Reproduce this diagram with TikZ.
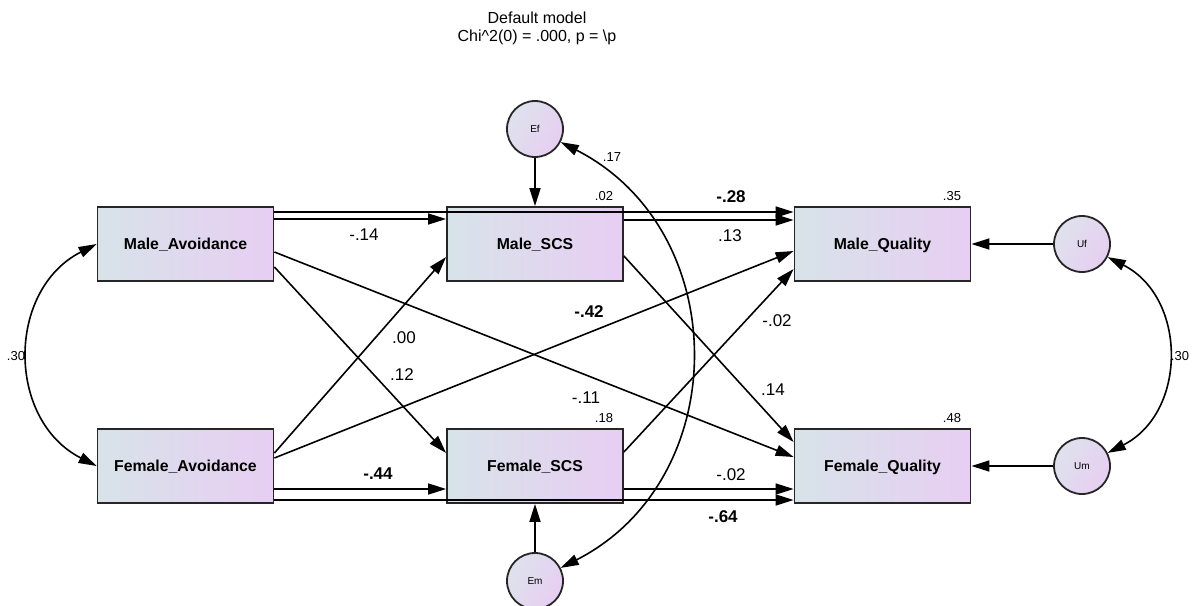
\documentclass[tikz,border=0pt]{standalone}
\usepackage{fontspec}
\setmainfont{Liberation Sans}
\usetikzlibrary{calc,arrows.meta}
\definecolor{boxL}{RGB}{216,227,233}
\definecolor{boxR}{RGB}{231,206,242}
\definecolor{cirL}{RGB}{222,226,236}
\definecolor{cirR}{RGB}{231,206,242}
\begin{document}
\begin{tikzpicture}[x=0.5pt,y=0.5pt,
  box/.style={draw=black!85, line width=0.9pt, left color=boxL, right color=boxR,
    minimum width=88pt, minimum height=37pt, inner sep=0pt,
    font=\fontsize{7.9}{9}\selectfont\bfseries, text height=5.7pt, text depth=0pt},
  latent/.style={circle, draw=black!85, line width=0.9pt, minimum size=28pt, inner sep=0pt,
    left color=cirL, right color=cirR, shading angle=60, font=\fontsize{5}{6}\selectfont},
  path/.style={line width=0.8pt, -{Triangle[length=9pt,width=5.5pt]}},
  cov/.style={line width=0.8pt, {Triangle[length=9pt,width=5.5pt]}-{Triangle[length=9pt,width=5.5pt]}},
  lab/.style={font=\fontsize{8.5}{10}\selectfont, inner sep=0pt},
  blab/.style={font=\fontsize{8.5}{10}\selectfont\bfseries, inner sep=0pt},
  small/.style={font=\fontsize{6.5}{8}\selectfont, inner sep=0pt},
  ttl/.style={font=\fontsize{8}{10}\selectfont, anchor=base, inner sep=0pt}
]
\useasboundingbox (0,0) rectangle (1197,-605);

% observed variables
\node[box] (ma) at (185.5,-244) {Male\_Avoidance};
\node[box] (mscs) at (535,-244) {Male\_SCS};
\node[box] (mq) at (882.5,-244) {Male\_Quality};
\node[box] (fa) at (185.5,-466) {Female\_Avoidance};
\node[box] (fscs) at (535,-466) {Female\_SCS};
\node[box] (fq) at (882.5,-466) {Female\_Quality};

% error terms
\node[latent] (ef) at (535,-129) {Ef};
\node[latent] (em) at (535,-581) {Em};
\node[latent] (uf) at (1082,-244) {Uf};
\node[latent] (um) at (1082,-466) {Um};

% horizontal paths
\draw[path] ($(ma.east)+(0,25)$) -- ($(mscs.west)+(0,25)$);
\draw[path] ($(ma.east)+(0,32)$) -- ($(mq.west)+(0,32)$);
\draw[path] ($(mscs.east)+(0,24)$) -- ($(mq.west)+(0,24)$);
\draw[path] ($(fa.east)+(0,-23)$) -- ($(fscs.west)+(0,-23)$);
\draw[path] ($(fa.east)+(0,-34)$) -- ($(fq.west)+(0,-34)$);
\draw[path] ($(fscs.east)+(0,-23)$) -- ($(fq.west)+(0,-23)$);

% cross paths
\draw[path] ($(ma.east)+(0,-23)$) -- ($(fscs.west)+(0,13)$);
\draw[path] ($(ma.east)+(0,-8)$) -- ($(fq.west)+(0,9)$);
\draw[path] ($(fa.east)+(0,13)$) -- ($(mscs.west)+(0,-13)$);
\draw[path] ($(fa.east)+(0,8)$) -- ($(mq.west)+(0,-7)$);
\draw[path] ($(mscs.east)+(0,-12)$) -- ($(fq.west)+(0,24)$);
\draw[path] ($(fscs.east)+(0,14)$) -- ($(mq.west)+(0,-25)$);

% error paths
\draw[path] (ef) -- (mscs);
\draw[path] (em) -- (fscs);
\draw[path] (uf) -- (mq);
\draw[path] (um) -- (fq);

% covariances
\draw[cov] (ma.west) to[out=207,in=153,looseness=1.17] (fa.west);
\draw[cov] (uf) to[out=-27,in=27,looseness=1.17] (um);
\draw[cov] (ef) to[out=-27,in=27,looseness=1.17] (em);

% path coefficients
\node[lab] (l1) at (364,-235) {-.14};
\node[blab] (l2) at (731,-197) {-.28};
\node[lab] (l3) at (730,-236) {.13};
\node[blab] (l4) at (378,-474) {-.44};
\node[lab] (l5) at (731,-475) {-.02};
\node[blab] (l6) at (723,-517) {-.64};
\node[lab] (l7) at (404,-338) {.00};
\node[lab] (l8) at (402,-375) {.12};
\node[blab] (l9) at (589,-312) {-.42};
\node[lab] (l10) at (586,-398) {-.11};
\node[lab] (l11) at (777,-321) {-.02};
\node[lab] (l12) at (773,-390) {.14};

% squared multiple correlations and covariances
\node[small] (r1) at (604,-196) {.02};
\node[small] (r2) at (604,-418) {.18};
\node[small] (r3) at (952,-196) {.35};
\node[small] (r4) at (952,-418) {.48};
\node[small] (c1) at (612,-157) {.17};
\node[small] (c2) at (16,-356) {.30};
\node[small] (c3) at (1180,-356) {.30};

% title
\node[ttl] (t1) at (537,-24) {Default model};
\node[ttl] (t2) at (537,-41.7) {Chi\textasciicircum 2(0) = .000, p = \textbackslash p};
\end{tikzpicture}
\end{document}
